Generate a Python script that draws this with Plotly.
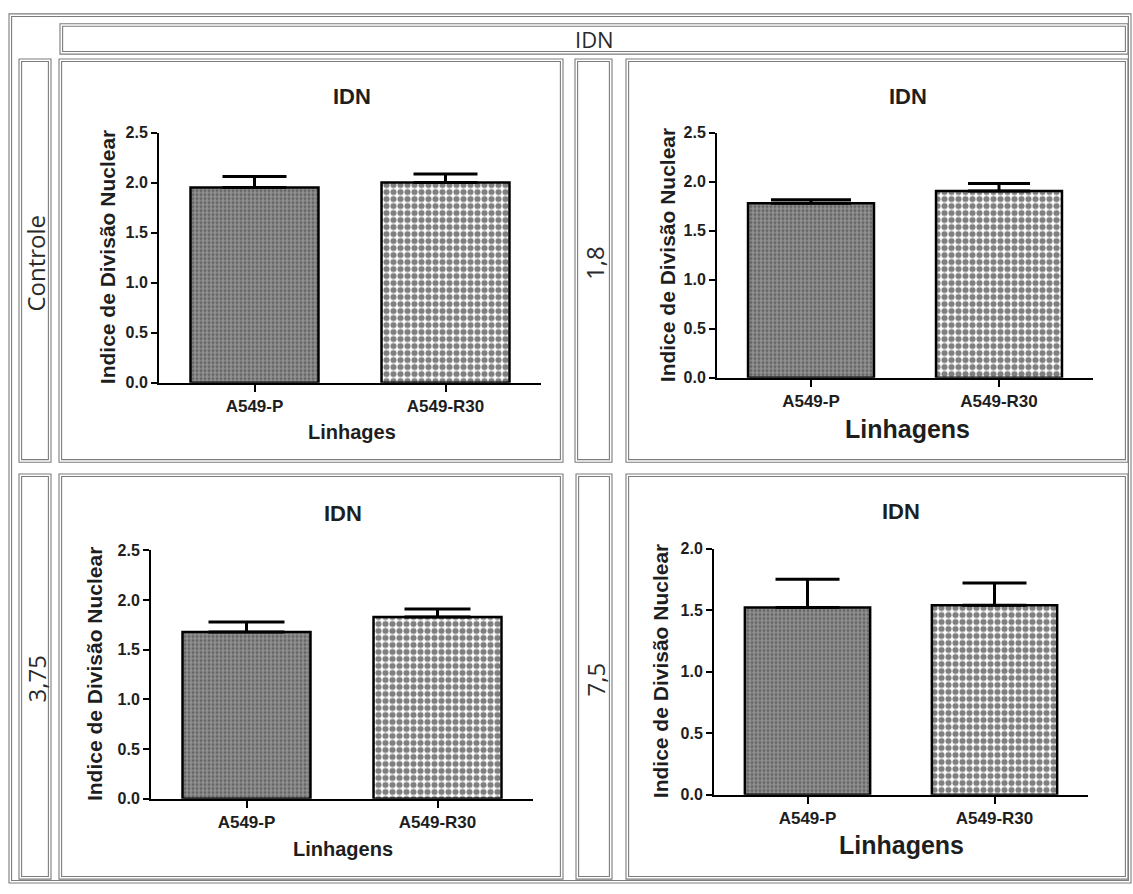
import plotly.graph_objects as go

W, H = 1133, 894

# ---------------- data ----------------
categories = ["A549-P", "A549-R30"]
header_text = "IDN"
panel_titles = ["IDN", "IDN", "IDN", "IDN"]
row_labels = ["Controle", "1,8", "3,75", "7,5"]
x_titles = ["Linhages", "Linhagens", "Linhagens", "Linhagens"]
y_title = "Indice de Divisão Nuclear"

means_controle = [1.95, 2.00]
sem_controle = [0.11, 0.085]
means_1_8 = [1.78, 1.905]
sem_1_8 = [0.035, 0.075]
means_3_75 = [1.68, 1.83]
sem_3_75 = [0.10, 0.08]
means_7_5 = [1.52, 1.54]
sem_7_5 = [0.23, 0.18]

y_max = [2.5, 2.5, 2.5, 2.0]
y_dtick = 0.5

all_means = [means_controle, means_1_8, means_3_75, means_7_5]
all_sems = [sem_controle, sem_1_8, sem_3_75, sem_7_5]

# ---------------- layout geometry (pixels) ----------------
# (x_axis_left, x_axis_right, y_zero, y_top)
panels_px = [
    (159, 541, 382, 127),
    (717, 1093, 377, 127),
    (151, 533, 806, 553),
    (714, 1088, 802, 551),
]
title_pos = [(352, 90), (908, 90), (343, 515), (901, 513)]
xtitle_pos = [(352, 432), (907, 429), (343, 857), (901, 853)]
xtitle_size = [20, 25, 20, 25]
ytitle_pos = [(107, 254), (667, 252), (94, 679), (660, 676)]
cap_half = [(32, 32), (40, 31), (38, 33), (32, 32)]

# boxes: (x0, y0, x1, y1)
outer_box = (9, 6, 1131, 892)
header_box = (60, 16, 1128, 47)
label_boxes = [(19, 52, 51, 463), (575, 52, 612, 463), (19, 475, 51, 888), (576, 475, 612, 888)]
panel_boxes = [(59, 52, 563, 463), (626, 52, 1128, 463), (59, 475, 563, 888), (626, 475, 1128, 888)]


def px(x):
    return x / W


def py(y):
    return 1 - y / H


FONT = "Liberation Sans"
TXT = "#1e1e1e"

fig = go.Figure()

bar_styles = [
    dict(shape=".", bgcolor="#929292", fgcolor="#383838", size=4, solidity=0.45),
    dict(shape=".", bgcolor="#ffffff", fgcolor="#000000", size=7, solidity=0.6),
]

for i in range(4):
    ax = "" if i == 0 else str(i + 1)
    for j, cat in enumerate(categories):
        fig.add_trace(go.Bar(
            x=[cat], y=[all_means[i][j]],
            xaxis="x" + ax, yaxis="y" + ax,
            width=0.67,
            marker=dict(color=bar_styles[j]["bgcolor"],
                        pattern=bar_styles[j],
                        line=dict(color="#000000", width=2.5)),
            error_y=dict(type="data", array=[all_sems[i][j]], arrayminus=[0],
                         symmetric=False, color="#000000", thickness=3,
                         width=cap_half[i][j]),
            showlegend=False, hoverinfo="skip",
        ))

    xl, xr, y0, yt = panels_px[i]
    xaxis = dict(
        domain=[px(xl), px(xr)], anchor="y" + ax,
        type="category", categoryorder="array", categoryarray=categories,
        range=[-0.5, 1.5], showline=True, linecolor="#000000", linewidth=2,
        ticks="outside", ticklen=7, tickwidth=2, tickcolor="#000000",
        showgrid=False, zeroline=False, fixedrange=True,
        tickfont=dict(family=FONT, size=17, color=TXT, weight="bold"),
    )
    yaxis = dict(
        domain=[py(y0), py(yt)], anchor="x" + ax,
        range=[0, y_max[i]], dtick=y_dtick, tick0=0, tickformat=".1f",
        showline=True, linecolor="#000000", linewidth=2,
        ticks="outside", ticklen=6, tickwidth=2, tickcolor="#000000",
        showgrid=False, zeroline=False, fixedrange=True,
        tickfont=dict(family=FONT, size=16, color=TXT, weight="bold"),
    )
    fig.update_layout({"xaxis" + ax: xaxis, "yaxis" + ax: yaxis})

annotations = []
for i in range(4):
    annotations.append(dict(text=panel_titles[i], x=px(title_pos[i][0]), y=py(title_pos[i][1]),
                            xref="paper", yref="paper", showarrow=False,
                            xanchor="center", yanchor="middle",
                            font=dict(family=FONT, size=22, color=TXT, weight="bold")))
    annotations.append(dict(text=x_titles[i], x=px(xtitle_pos[i][0]), y=py(xtitle_pos[i][1]),
                            xref="paper", yref="paper", showarrow=False,
                            xanchor="center", yanchor="middle",
                            font=dict(family=FONT, size=xtitle_size[i], color=TXT, weight="bold")))
    annotations.append(dict(text=y_title, x=px(ytitle_pos[i][0]), y=py(ytitle_pos[i][1]),
                            xref="paper", yref="paper", showarrow=False, textangle=-90,
                            xanchor="center", yanchor="middle",
                            font=dict(family=FONT, size=21, color=TXT, weight="bold")))
    lb = label_boxes[i]
    annotations.append(dict(text=row_labels[i], x=px((lb[0] + lb[2]) / 2 + 1), y=py((lb[1] + lb[3]) / 2 + 3),
                            xref="paper", yref="paper", showarrow=False, textangle=-90,
                            xanchor="center", yanchor="middle",
                            font=dict(family="Open Sans", size=24, color="#2a2a2a")))

annotations.append(dict(text=header_text, x=px((header_box[0] + header_box[2]) / 2), y=py(32),
                        xref="paper", yref="paper", showarrow=False,
                        xanchor="center", yanchor="middle",
                        font=dict(family="Open Sans", size=22, color="#2a2a2a")))

shapes = []


def double_rect(b, gap=2.6, color="#7c7c7c"):
    x0, y0, x1, y1 = b
    for g in (0, gap):
        shapes.append(dict(type="rect", xref="paper", yref="paper",
                           x0=px(x0 + g), x1=px(x1 - g), y0=py(y1 - g), y1=py(y0 + g),
                           line=dict(color=color, width=1.1), fillcolor="rgba(0,0,0,0)",
                           layer="below"))


double_rect(outer_box)
double_rect(header_box)
for b in label_boxes:
    double_rect(b)
for b in panel_boxes:
    double_rect(b)

fig.update_layout(
    width=W, height=H, margin=dict(l=0, r=0, t=0, b=0),
    paper_bgcolor="#ffffff", plot_bgcolor="rgba(0,0,0,0)",
    barmode="overlay", showlegend=False,
    annotations=annotations, shapes=shapes,
)

fig.write_html("out.html", config={"displayModeBar": False},
               post_script="document.documentElement.style.margin='0';"
                           "document.body.style.margin='0';"
                           "document.body.style.overflow='hidden';")
